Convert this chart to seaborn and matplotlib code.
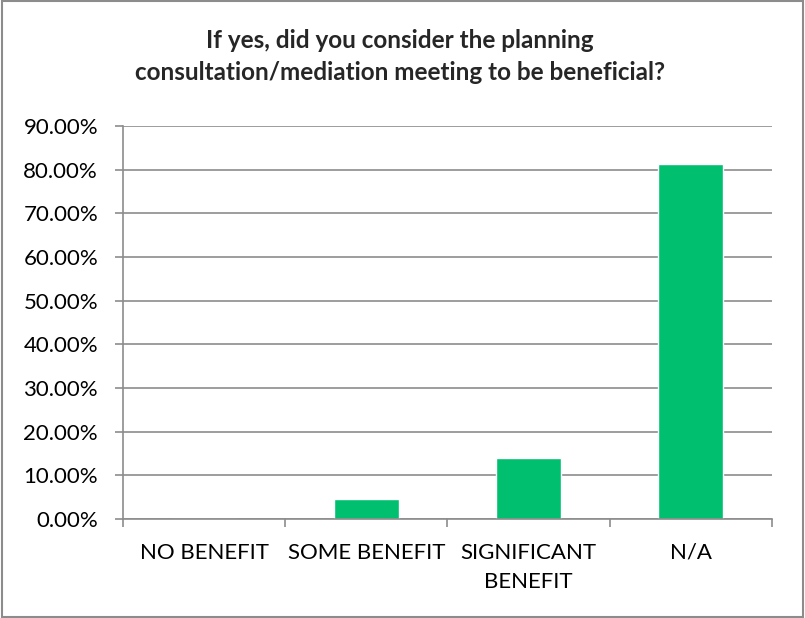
import matplotlib
matplotlib.use("Agg")
import matplotlib.pyplot as plt
import matplotlib.patches as mpatches
from matplotlib.ticker import FixedLocator, PercentFormatter, NullFormatter
import seaborn as sns
import pandas as pd

categories = ["NO BENEFIT", "SOME BENEFIT", "SIGNIFICANT\nBENEFIT", "N/A"]
shares = [0.0, 4.65, 14.0, 81.4]
title = "If yes, did you consider the planning\nconsultation/mediation meeting to be beneficial?"

df = pd.DataFrame({"answer": categories, "share": shares})

sns.set_theme(style="white")
plt.rcParams["font.family"] = ["Lato", "DejaVu Sans"]

fig = plt.figure(figsize=(8.05, 6.18), dpi=100)
ax = fig.add_axes([0.1528, 0.160, 0.8062, 0.636])

sns.barplot(data=df, x="answer", y="share", color="#00C070", width=0.4,
            saturation=1, ax=ax)

ax.set_ylim(0, 90)
ax.set_xlim(-0.5, len(categories) - 0.5)
ax.set_yticks(range(0, 91, 10))
ax.yaxis.set_major_formatter(PercentFormatter(decimals=2))
ax.yaxis.grid(True, color="#8C8C8C", linewidth=1.2)
ax.set_axisbelow(True)

for side in ("top", "right"):
    ax.spines[side].set_visible(False)
for side in ("left", "bottom"):
    ax.spines[side].set_color("#8C8C8C")
    ax.spines[side].set_linewidth(1.2)

# category boundary ticks along the x axis
ax.xaxis.set_minor_locator(FixedLocator([i - 0.5 for i in range(len(categories) + 1)]))
ax.xaxis.set_minor_formatter(NullFormatter())
ax.tick_params(axis="x", which="major", length=0, pad=17, labelsize=16, colors="black")
ax.tick_params(axis="x", which="minor", length=6, width=1.2, color="#8C8C8C", bottom=True)
ax.tick_params(axis="y", which="major", length=6, width=1.2, color="#8C8C8C", left=True,
               labelsize=16, colors="black", pad=12)
for lbl in ax.get_yticklabels():
    lbl.set_color("black")
for lbl in ax.get_xticklabels():
    lbl.set_linespacing(1.6)
ax.set_xlabel("")
ax.set_ylabel("")

fig.text(0.497, 0.909, title, ha="center", va="center", fontsize=17.5,
         fontweight="bold", linespacing=1.45)

fig.patches.append(mpatches.Rectangle((0.002, 0.002), 0.996, 0.996, transform=fig.transFigure,
                                      fill=False, edgecolor="#8C8C8C", linewidth=1.5))

fig.savefig("out.png", dpi=100)
